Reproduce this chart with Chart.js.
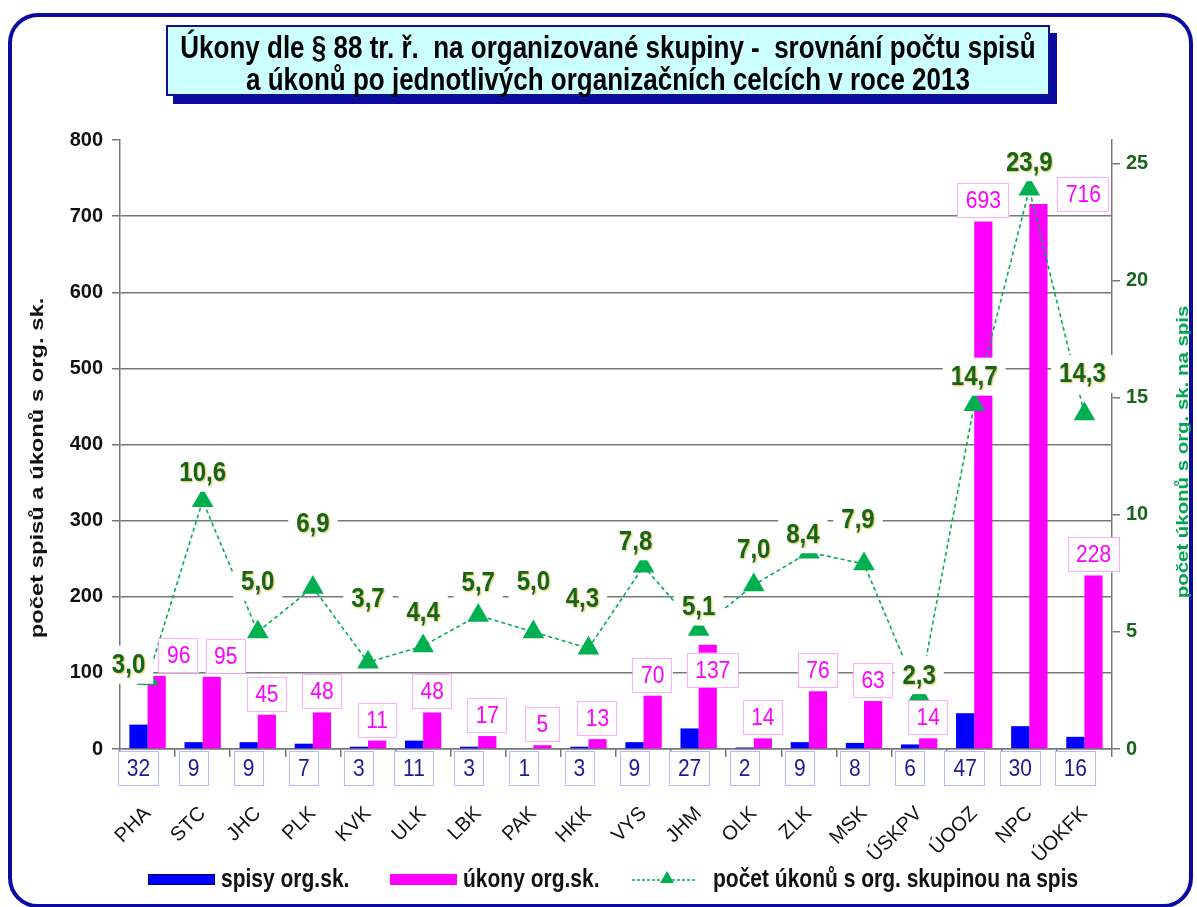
<!DOCTYPE html>
<html lang="cs">
<head>
  <meta charset="UTF-8" />
  <title>Úkony dle § 88 tr. ř. – organizované skupiny 2013</title>
  <script src="https://cdn.jsdelivr.net/npm/chart.js"></script>
  <style>
    body {
      margin: 0;
      background: #fff;
      font-family: 'Liberation Sans', Arial, sans-serif;
    }

    .frame {
      position: absolute;
      left: 8px;
      top: 13px;
      width: 1177px;
      height: 887px;
      border: 4px solid #0a0a9e;
      border-radius: 30px;
    }

    .title {
      position: absolute;
      left: 166px;
      top: 25px;
      width: 880px;
      height: 67px;
      background: #ccffff;
      border: 2px solid #10108c;
      box-shadow: 7px 8px 0 #0a0a9e;
      text-align: center;
      z-index: 2;
    }

    .title span {
      display: block;
      font: bold 26px 'Liberation Sans', Arial, sans-serif;
      line-height: 26px;
      margin-top: 5px;
      transform: scaleY(1.2);
      transform-origin: 50% 0;
      white-space: nowrap;
    }

    .wrap {
      position: absolute;
      left: 0;
      top: 0;
      width: 1197px;
      height: 907px;
    }
  </style>
</head>
<body>
  <div class="frame"></div>
  <div class="title"><span>Úkony dle § 88 tr. ř.&nbsp; na organizované skupiny -&nbsp; srovnání počtu spisů<br>a úkonů po jednotlivých organizačních celcích v roce 2013</span></div>
  <div class="wrap"><canvas id="chart"></canvas></div>

  <script>
    const categories = ['PHA', 'STC', 'JHC', 'PLK', 'KVK', 'ULK', 'LBK', 'PAK', 'HKK', 'VYS',
                        'JHM', 'OLK', 'ZLK', 'MSK', 'ÚSKPV', 'ÚOOZ', 'NPC', 'ÚOKFK'];
    const spisy = [32, 9, 9, 7, 3, 11, 3, 1, 3, 9, 27, 2, 9, 8, 6, 47, 30, 16];
    const ukony = [96, 95, 45, 48, 11, 48, 17, 5, 13, 70, 137, 14, 76, 63, 14, 693, 716, 228];
    const ukonyNaSpis = [3.0, 10.6, 5.0, 6.9, 3.7, 4.4, 5.7, 5.0, 4.3, 7.8, 5.1, 7.0, 8.4, 7.9, 2.3, 14.7, 23.9, 14.3];

    const seriesNames = ['spisy org.sk.', 'úkony org.sk.', 'počet úkonů s org. skupinou na spis'];
    const leftTitle = 'počet spisů a úkonů s org. sk.';
    const rightTitle = 'počet úkonů s org. sk. na spis';

    const BLUE = '#0000ff';
    const MAGENTA = '#ff00ff';
    const GREEN = '#00b050';
    const DARK_GREEN = '#17651a';
    const GRID = '#777777';
    const FONT = '"Liberation Sans", Arial, sans-serif';

    // hand placed label nudges, like in the original sheet
    const greenNudge = {
      0: [-19, -14], 2: [0, -50], 3: [0, -64], 4: [0, -64], 5: [0, -33], 6: [0, -33],
      7: [0, -50], 8: [-6, -50], 9: [-8, -25], 10: [0, -23], 11: [0, -35], 12: [-6, -18],
      13: [-6, -44], 14: [0, -20], 16: [0, -27], 17: [-2, -40]
    };
    const magentaNudge = { 0: [22, 0], 1: [14, 0], 10: [5, 46], 16: [45, 11] };

    function fmt(v) {
      return v.toFixed(1).replace('.', ',');
    }

    function drawBox(ctx, cx, top, w, h, stroke) {
      ctx.fillStyle = '#fff';
      ctx.fillRect(cx - w / 2, top, w, h);
      if (stroke) {
        ctx.save();
        ctx.setLineDash([1, 1]);
        ctx.strokeStyle = stroke;
        ctx.lineWidth = 1;
        ctx.strokeRect(Math.round(cx - w / 2) + 0.5, Math.round(top) + 0.5, Math.round(w) - 1, Math.round(h) - 1);
        ctx.restore();
      }
    }

    function drawTriangle(ctx, x, y, r, color) {
      ctx.fillStyle = color;
      ctx.beginPath();
      ctx.moveTo(x, y - r);
      ctx.lineTo(x + r * 0.866, y + r * 0.5);
      ctx.lineTo(x - r * 0.866, y + r * 0.5);
      ctx.closePath();
      ctx.fill();
    }

    // text drawn a bit stretched, the source picture is taller than wide
    function stretchedText(ctx, txt, x, y, sx, sy) {
      ctx.save();
      ctx.translate(x, y);
      ctx.scale(sx, sy);
      ctx.fillText(txt, 0, 0);
      ctx.restore();
    }

    const valueLabels = {
      id: 'valueLabels',
      afterDatasetsDraw(chart) {
        const ctx = chart.ctx;
        const blueBars = chart.getDatasetMeta(0).data;
        const pinkBars = chart.getDatasetMeta(1).data;
        const points = chart.getDatasetMeta(2).data;
        ctx.save();
        ctx.textAlign = 'center';
        ctx.textBaseline = 'middle';

        // green ratio labels
        ctx.font = 'bold 24px ' + FONT;
        points.forEach((p, i) => {
          const [dx, dy] = greenNudge[i] || [0, -28];
          const txt = fmt(ukonyNaSpis[i]);
          const w = ctx.measureText(txt).width + 16;
          const cx = p.x + dx, cy = p.y + dy;
          drawBox(ctx, cx, cy - 19, w, 38, null);
          ctx.save();
          ctx.shadowColor = 'rgba(200, 180, 40, 0.8)';
          ctx.shadowBlur = 2;
          ctx.shadowOffsetX = 1;
          ctx.shadowOffsetY = 1;
          ctx.fillStyle = DARK_GREEN;
          stretchedText(ctx, txt, cx, cy + 1, 1, 1.12);
          ctx.restore();
        });

        // magenta values above úkony bars
        ctx.font = '21px ' + FONT;
        pinkBars.forEach((b, i) => {
          const [dx, dy] = magentaNudge[i] || [0, 0];
          const txt = String(ukony[i]);
          const w = Math.max(35, ctx.measureText(txt).width + 17);
          const h = 35;
          const cx = b.x + dx;
          const top = b.y - 3 - h + dy;
          drawBox(ctx, cx, top, w, h, '#ff5cff');
          ctx.fillStyle = MAGENTA;
          stretchedText(ctx, txt, cx, top + h / 2 + 1, 1, 1.1);
        });

        // blue values under the axis
        const axisY = chart.chartArea.bottom;
        blueBars.forEach((b, i) => {
          const txt = String(spisy[i]);
          const w = Math.max(29, ctx.measureText(txt).width + 18);
          const h = 35;
          drawBox(ctx, b.x, axisY + 2, w, h, '#6f6fff');
          ctx.fillStyle = '#1c1c9a';
          stretchedText(ctx, txt, b.x, axisY + 2 + h / 2 + 1, 1, 1.1);
        });
        ctx.restore();
      },
      afterDraw(chart) {
        const ctx = chart.ctx;
        ctx.save();
        ctx.textAlign = 'center';
        ctx.textBaseline = 'middle';

        // axis titles, both reading bottom to top
        ctx.font = 'bold 19px ' + FONT;
        ctx.fillStyle = '#111';
        ctx.save();
        ctx.translate(38, 468);
        ctx.rotate(-Math.PI / 2);
        ctx.scale(1.25, 1);
        ctx.fillText(leftTitle, 0, 0);
        ctx.restore();

        ctx.font = 'bold 17px ' + FONT;
        ctx.fillStyle = '#00a550';
        ctx.save();
        ctx.translate(1183, 452);
        ctx.rotate(-Math.PI / 2);
        ctx.scale(1.2, 1);
        ctx.fillText(rightTitle, 0, 0);
        ctx.restore();
        ctx.restore();

        // legend
        ctx.save();
        const ly = 880;
        ctx.font = 'bold 21px ' + FONT;
        ctx.textBaseline = 'middle';
        ctx.textAlign = 'left';
        ctx.fillStyle = BLUE;
        ctx.fillRect(148, ly - 6, 67, 11);
        ctx.strokeStyle = '#00006a';
        ctx.lineWidth = 1;
        ctx.strokeRect(148.5, ly - 5.5, 66, 10);
        ctx.fillStyle = '#111';
        stretchedText(ctx, seriesNames[0], 221, ly, 1, 1.2);

        ctx.fillStyle = MAGENTA;
        ctx.fillRect(390, ly - 6, 67, 11);
        ctx.fillStyle = '#111';
        stretchedText(ctx, seriesNames[1], 463, ly, 1, 1.2);

        ctx.strokeStyle = GREEN;
        ctx.lineWidth = 1.5;
        ctx.setLineDash([3, 2]);
        ctx.beginPath();
        ctx.moveTo(632, ly);
        ctx.lineTo(696, ly);
        ctx.stroke();
        ctx.setLineDash([]);
        drawTriangle(ctx, 667, ly - 1, 8, GREEN);
        ctx.fillStyle = '#111';
        stretchedText(ctx, seriesNames[2], 713, ly, 1, 1.2);
        ctx.restore();
      }
    };

    new Chart(document.getElementById('chart'), {
      data: {
        labels: categories,
        datasets: [
          {
            type: 'bar',
            label: seriesNames[0],
            data: spisy,
            backgroundColor: BLUE,
            yAxisID: 'y',
            order: 2,
            categoryPercentage: 0.66,
            barPercentage: 1.0
          },
          {
            type: 'bar',
            label: seriesNames[1],
            data: ukony,
            backgroundColor: MAGENTA,
            yAxisID: 'y',
            order: 2,
            categoryPercentage: 0.66,
            barPercentage: 1.0
          },
          {
            type: 'line',
            label: seriesNames[2],
            data: ukonyNaSpis,
            yAxisID: 'y1',
            order: 1,
            borderColor: GREEN,
            borderWidth: 1.6,
            borderDash: [4, 3],
            pointStyle: 'triangle',
            pointRadius: 12.5,
            pointBackgroundColor: GREEN,
            pointBorderWidth: 0,
            tension: 0,
            fill: false
          }
        ]
      },
      options: {
        responsive: true,
        maintainAspectRatio: false,
        animation: false,
        layout: { padding: { top: 140, left: 20, right: 0, bottom: 0 } },
        plugins: {
          legend: { display: false },
          tooltip: { enabled: false }
        },
        scales: {
          x: {
            afterFit: s => { s.height = 158; },
            grid: {
              offset: true,
              drawOnChartArea: false,
              tickLength: 8,
              color: GRID,
              lineWidth: 1.5
            },
            border: { color: GRID, width: 1.5 },
            ticks: {
              maxRotation: 45,
              minRotation: 45,
              padding: 45,
              color: '#111',
              font: { family: FONT, size: 20 }
            }
          },
          y: {
            position: 'left',
            min: 0,
            max: 800,
            afterFit: s => { s.width = 100; },
            ticks: {
              stepSize: 100,
              padding: 9,
              color: '#111',
              font: { family: FONT, size: 20, weight: 'bold' }
            },
            grid: {
              color: c => (c.tick && c.tick.value === 800 ? 'rgba(0,0,0,0)' : GRID),
              tickColor: GRID,
              lineWidth: 1.5,
              tickLength: 8
            },
            border: { color: GRID, width: 1.5 }
          },
          y1: {
            position: 'right',
            min: 0,
            max: 26,
            afterFit: s => { s.width = 85; },
            afterBuildTicks: s => { s.ticks = s.ticks.filter(t => t.value <= 25); },
            ticks: {
              stepSize: 5,
              padding: 6,
              color: DARK_GREEN,
              font: { family: FONT, size: 20, weight: 'bold' }
            },
            grid: {
              drawOnChartArea: false,
              color: GRID,
              lineWidth: 1.5,
              tickLength: 8
            },
            border: { color: GRID, width: 1.5 }
          }
        }
      },
      plugins: [valueLabels]
    });
  </script>
</body>
</html>
